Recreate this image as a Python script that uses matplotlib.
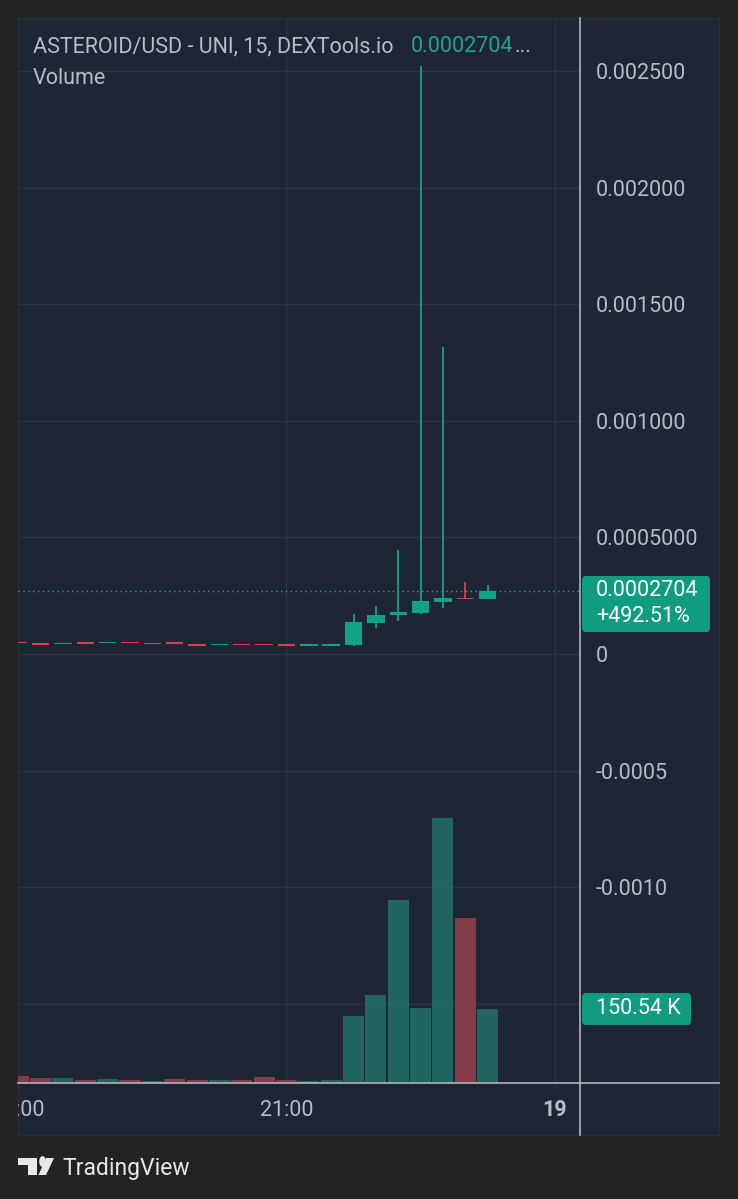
import numpy as np
import matplotlib
matplotlib.use("Agg")
import matplotlib.pyplot as plt
import matplotlib.transforms as mtransforms
from matplotlib.patches import Rectangle, FancyBboxPatch, Polygon, Circle
from matplotlib.lines import Line2D

plt.rcParams['font.family'] = ['Roboto', 'DejaVu Sans']

# 15-minute candles, index 0 = 21:00
idx = np.arange(-12, 10)
opens = [4.90e-5, 4.33e-5, 4.55e-5, 4.76e-5, 4.81e-5, 4.89e-5, 4.55e-5, 4.76e-5,
         3.90e-5, 4.12e-5, 4.20e-5, 4.20e-5, 3.90e-5, 3.82e-5, 3.82e-5,
         3.73e-5, 1.342e-4, 1.659e-4, 1.758e-4, 2.230e-4, 2.401e-4, 2.346e-4]
closes = [4.80e-5, 4.25e-5, 4.63e-5, 4.68e-5, 4.89e-5, 4.81e-5, 4.63e-5, 4.68e-5,
          3.82e-5, 4.20e-5, 4.12e-5, 4.12e-5, 3.82e-5, 3.90e-5, 3.90e-5,
          1.359e-4, 1.672e-4, 1.801e-4, 2.273e-4, 2.388e-4, 2.346e-4, 2.704e-4]
highs = [4.90e-5, 4.33e-5, 4.63e-5, 4.76e-5, 4.89e-5, 4.89e-5, 4.63e-5, 4.76e-5,
         3.90e-5, 4.20e-5, 4.20e-5, 4.20e-5, 3.90e-5, 3.90e-5, 3.90e-5,
         1.702e-4, 2.045e-4, 4.46e-4, 2.521e-3, 1.316e-3, 3.087e-4, 2.959e-4]
lows = [4.80e-5, 4.25e-5, 4.55e-5, 4.68e-5, 4.81e-5, 4.81e-5, 4.55e-5, 4.68e-5,
        3.82e-5, 4.12e-5, 4.12e-5, 4.12e-5, 3.82e-5, 3.82e-5, 3.82e-5,
        3.60e-5, 1.128e-4, 1.415e-4, 1.728e-4, 1.985e-4, 2.337e-4, 2.346e-4]
volumes = [14.2, 9.6, 9.6, 5.5, 7.5, 6.7, 4.7, 8.7, 6.7, 6.7, 6.7, 12.2, 5.5,
           3.5, 5.5, 136, 179, 372, 152.5, 539, 336, 150.54]  # thousands

price_ticks = [0.0025, 0.002, 0.0015, 0.001, 0.0005, 0, -0.0005, -0.001, -0.0015]
price_labels = ["0.002500", "0.002000", "0.001500", "0.001000", "0.0005000",
                "0", "-0.0005", "-0.0010", ""]
time_pos = [-12, 0, 12]
time_labels = ["18:00", "21:00", "19"]
last_price = 0.0002704

W, H = 738, 1199
BG = '#232323'
PANEL = '#1e2533'
GRID = '#2c3545'
TXT = '#b8bcc6'
UP = '#12a386'
DOWN = '#e03a50'
VUP = '#236b62'
VDN = '#8d3d4c'
FS = 15.5


def fx(x):
    return x / W


def fy(y):
    return 1 - y / H


fig = plt.figure(figsize=(W / 100, H / 100), dpi=100, facecolor=BG)
fig.patches.append(Rectangle((fx(18), fy(1135)), fx(719) - fx(18), fy(18) - fy(1135),
                             transform=fig.transFigure, facecolor=PANEL,
                             edgecolor='#2a303b', lw=1, zorder=-10))

ax_v = fig.add_axes([fx(18), fy(1083), fx(580) - fx(18), fy(18) - fy(1083)])
ax = ax_v.twinx()
ax.set_zorder(2)
ax_v.set_zorder(1)
ax.patch.set_visible(False)
ax_v.patch.set_visible(False)

xlim = (-12.01, 13.13)
ax_v.set_xlim(*xlim)
ax_v.set_ylim(0, 1065 * 2.034)
ax.set_ylim(-0.0018396, 0.0027272)

# grid (drawn in the volume axes so the bars sit above it)
ytrans = mtransforms.blended_transform_factory(ax_v.transAxes, ax.transData)
for p in price_ticks:
    ax_v.add_line(Line2D([0, 1], [p, p], transform=ytrans, color=GRID, lw=1, zorder=0))
for t in [0, 12]:
    ax_v.axvline(t, color=GRID, lw=1, zorder=0)

# volume
vcols = [VUP if c >= o else VDN for o, c in zip(opens, closes)]
ax_v.bar(idx, volumes, width=0.94, color=vcols, alpha=0.93, zorder=1)

# candles
minh = 6e-6
for x, o, h, l, c in zip(idx, opens, highs, lows, closes):
    col = UP if c >= o else DOWN
    ax.vlines(x, l, h, color=col, lw=1.3, zorder=3)
    bot, top = min(o, c), max(o, c)
    if top - bot < minh:
        mid = (top + bot) / 2
        bot, top = mid - minh / 2, mid + minh / 2
    ax.bar(x, top - bot, bottom=bot, width=0.78, color=col, zorder=4)

ax.axhline(last_price, color='#22ab94', lw=1, ls=(0, (1, 2.5)), zorder=2)

for a in (ax, ax_v):
    for s in a.spines.values():
        s.set_visible(False)
ax_v.set_xticks([])
ax_v.set_yticks([])
ax.set_yticks(price_ticks)
ax.set_yticklabels(price_labels)
ax.tick_params(axis='y', length=0, pad=11.5, labelsize=FS, labelcolor=TXT)

# time axis
ax_t = fig.add_axes([fx(18), fy(1135), fx(580) - fx(18), fy(1083) - fy(1135)])
ax_t.set_xlim(*xlim)
ax_t.set_ylim(0, 1)
ax_t.axis('off')
for t, lab in zip(time_pos, time_labels):
    ax_t.text(t, 0.48, lab, ha='center', va='center', fontsize=FS, color=TXT,
              fontweight='bold' if lab == "19" else 'normal', clip_on=True)

# separators
fig.lines.append(Line2D([fx(580), fx(580)], [fy(18), fy(1135)], transform=fig.transFigure,
                        color='#b2b5be', lw=1.2))
fig.lines.append(Line2D([fx(18), fx(719)], [fy(1083), fy(1083)], transform=fig.transFigure,
                        color='#b2b5be', lw=1.2))

# legend texts
fig.text(fx(33), fy(47), "ASTEROID/USD - UNI, 15, DEXTools.io", fontsize=FS, color=TXT,
         va='center', ha='left')
fig.text(fx(411), fy(47), "0.0002704", fontsize=FS, color='#1fa58b', va='center', ha='left')
fig.text(fx(514), fy(47), "...", fontsize=FS, color=TXT, va='center', ha='left')
fig.text(fx(33), fy(78), "Volume", fontsize=FS, color=TXT, va='center', ha='left')

# price label boxes
fig.patches.append(FancyBboxPatch((fx(582), fy(632)), fx(710) - fx(582), fy(576) - fy(632),
                                  boxstyle="round,pad=0,rounding_size=0.004",
                                  transform=fig.transFigure, facecolor='#0f9c7f',
                                  edgecolor='none', zorder=5))
fig.text(fx(596), fy(591), "0.0002704", fontsize=FS, color='white', va='center', zorder=6)
fig.text(fx(596), fy(617), "+492.51%", fontsize=FS, color='white', va='center', zorder=6)
fig.patches.append(FancyBboxPatch((fx(582), fy(1025)), fx(691) - fx(582), fy(993) - fy(1025),
                                  boxstyle="round,pad=0,rounding_size=0.004",
                                  transform=fig.transFigure, facecolor='#0f9c7f',
                                  edgecolor='none', zorder=5))
fig.text(fx(596), fy(1009), "150.54 K", fontsize=FS, color='white', va='center', zorder=6)

# TradingView logo
LOGO = '#e8e8e8'
fig.patches.append(Polygon([(fx(18), fy(1158)), (fx(37), fy(1158)), (fx(37), fy(1175)),
                            (fx(28), fy(1175)), (fx(28), fy(1165)), (fx(18), fy(1165))],
                           closed=True, transform=fig.transFigure, facecolor=LOGO, edgecolor='none'))
fig.patches.append(Circle((fx(42.5), fy(1161.5)), 3.3 / W, transform=fig.transFigure,
                          facecolor=LOGO, edgecolor='none'))
fig.patches.append(Polygon([(fx(46), fy(1158)), (fx(54), fy(1158)), (fx(46), fy(1175)),
                            (fx(38.5), fy(1175))],
                           closed=True, transform=fig.transFigure, facecolor=LOGO, edgecolor='none'))
fig.text(fx(62), fy(1168), "TradingView", fontsize=16.5, color=LOGO, va='center', ha='left')

fig.savefig("out.png", dpi=100, facecolor=BG)
